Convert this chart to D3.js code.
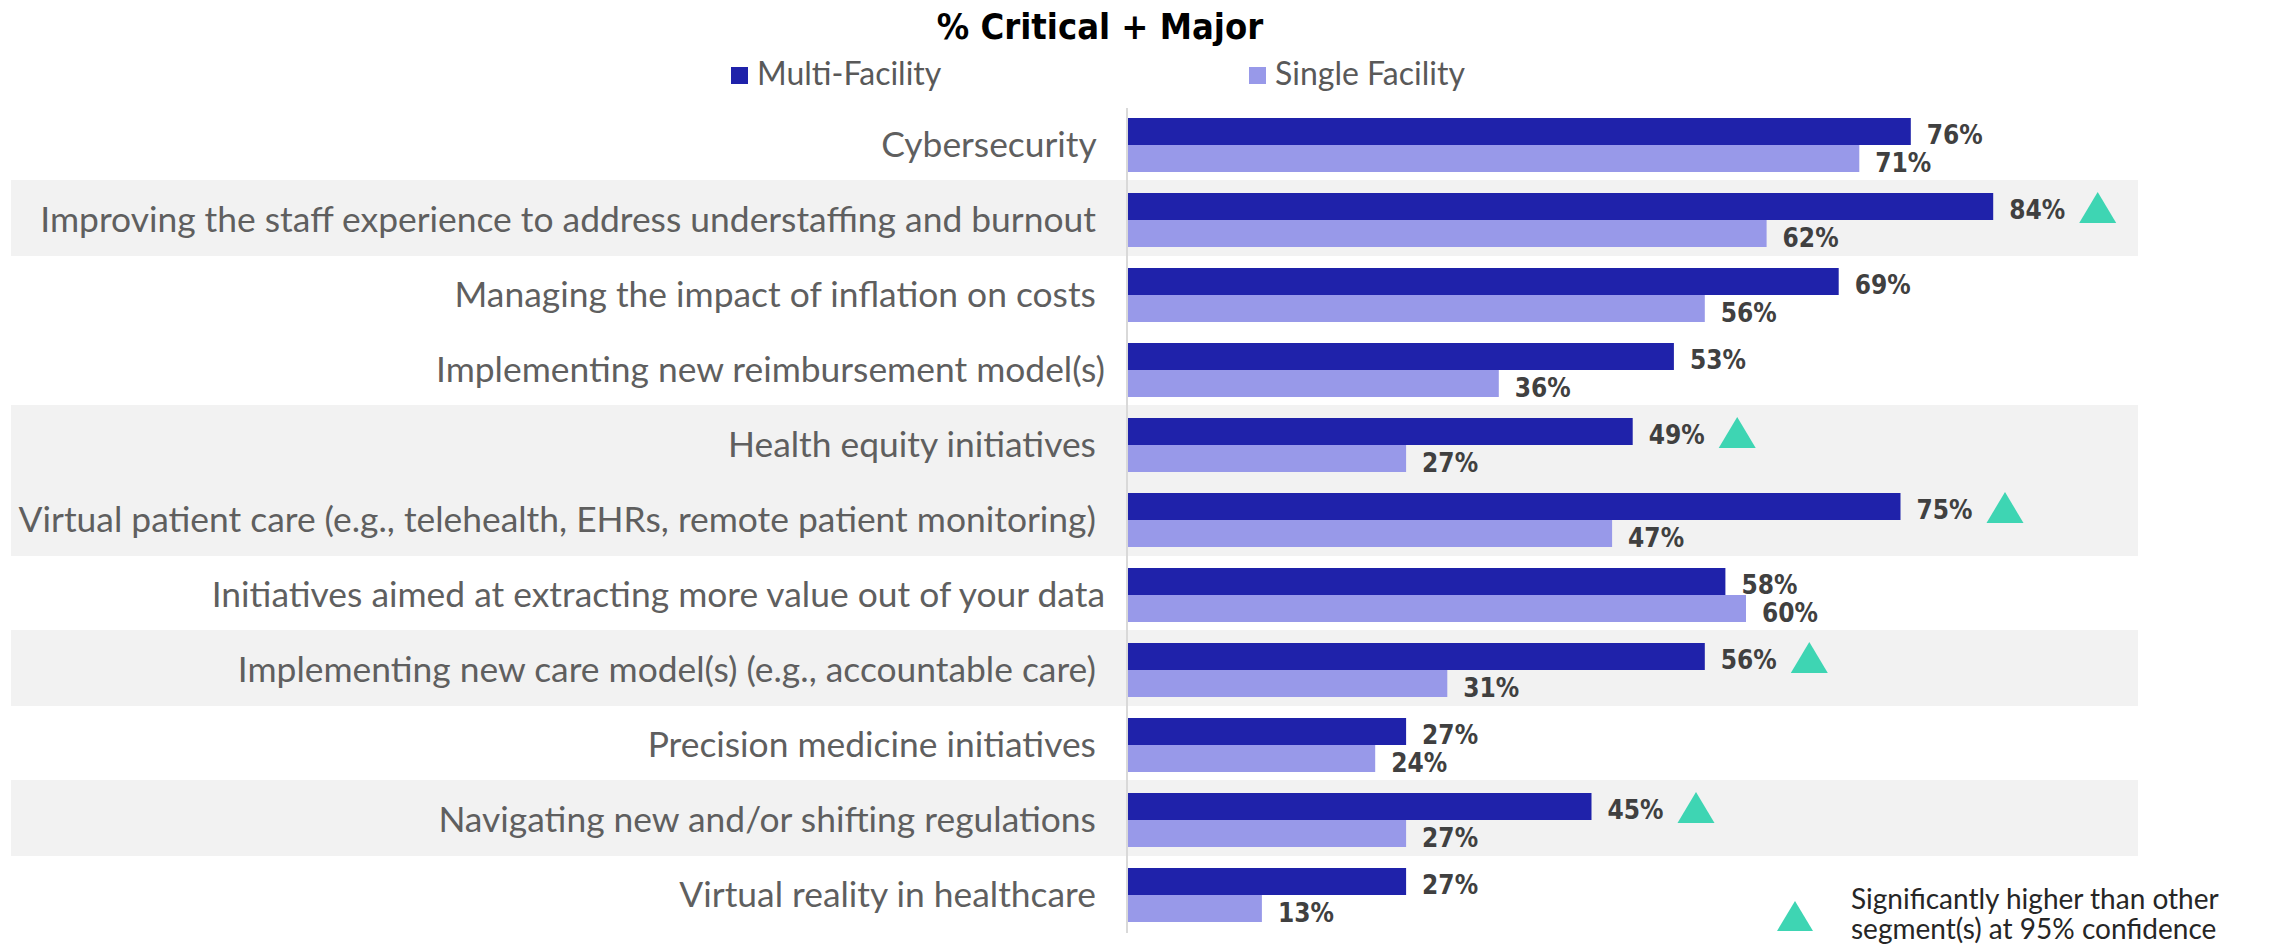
<!DOCTYPE html>
<html>
<head>
<meta charset="utf-8">
<script src="https://cdn.jsdelivr.net/npm/d3@7"></script>
<style>
  html, body { margin: 0; padding: 0; background: #fff; }
  svg { display: block; }
</style>
</head>
<body>
<svg id="chart"></svg>
<script>
let categories = [
    "Cybersecurity ",
    "Improving the staff experience to address understaffing and burnout ",
    "Managing the impact of inflation on costs ",
    "Implementing new reimbursement model(s)",
    "Health equity initiatives ",
    "Virtual patient care (e.g., telehealth, EHRs, remote patient monitoring) ",
    "Initiatives aimed at extracting more value out of your data",
    "Implementing new care model(s) (e.g., accountable care) ",
    "Precision medicine initiatives ",
    "Navigating new and/or shifting regulations ",
    "Virtual reality in healthcare "
];
let multiFacility  = [76, 84, 69, 53, 49, 75, 58, 56, 27, 45, 27];
let singleFacility = [71, 62, 56, 36, 27, 47, 60, 31, 24, 27, 13];
// rows where Multi-Facility is significantly higher
let significant = [false, true, false, false, true, true, false, true, false, true, false];
// rows with a grey background band
let shadedRows = [1, 4, 5, 7, 9];
let seriesNames = ["Multi-Facility", "Single Facility"];

let width = 2270;
let height = 945;
let darkBlue = "#1f22aa";
let lightBlue = "#9899e9";
let teal = "#3ed5b3";
let labelFont = "Lato, 'Open Sans', sans-serif";
let numFont = "'DejaVu Sans', sans-serif";

let svg = d3.select("#chart")
    .attr("width", width)
    .attr("height", height);

let x = d3.scaleLinear()
    .domain([0, 100])
    .range([1128, 2158]);

let y = d3.scaleBand()
    .domain(categories)
    .range([108, 933]);

let inner = d3.scaleBand()
    .domain(seriesNames)
    .range([10, 64]);

// grey bands behind some rows
svg.append("g")
    .selectAll("rect")
    .data(shadedRows)
    .join("rect")
    .attr("x", 11)
    .attr("width", 2138 - 11)
    .attr("y", i => y(categories[i]) - 3)
    .attr("height", y.bandwidth() + 1)
    .attr("fill", "#f2f2f2");

// title
svg.append("text")
    .attr("x", 1100)
    .attr("y", 39)
    .attr("text-anchor", "middle")
    .style("font-family", numFont)
    .style("font-stretch", "condensed")
    .style("font-weight", "bold")
    .style("font-size", "36px")
    .attr("fill", "#000")
    .text("% Critical + Major");

// legend
let legendX = [731, 1249];
let legend = svg.append("g")
    .selectAll("g")
    .data(seriesNames)
    .join("g")
    .attr("transform", (d, i) => `translate(${legendX[i]},67)`);
legend.append("rect")
    .attr("width", 17)
    .attr("height", 17)
    .attr("fill", (d, i) => i == 0 ? darkBlue : lightBlue);
legend.append("text")
    .attr("x", 26)
    .attr("y", 18)
    .style("font-family", labelFont)
    .style("font-size", "32px")
    .attr("fill", "#595959")
    .text(d => d);

// category labels
let labels = svg.append("g")
    .selectAll("text")
    .data(categories)
    .join("text")
    .attr("x", 1105)
    .attr("y", d => y(d) + y.bandwidth() / 2 + 11)
    .attr("text-anchor", "end")
    .style("white-space", "pre")
    .style("font-family", labelFont)
    .style("font-size", "30px")
    .attr("fill", "#5f5f5f")
    .text(d => d);

// scale label font so the longest label spans the same width as the original
let longest = labels.filter((d, i) => i == 5).node().getComputedTextLength();
let labelSize = 30 * 1087 / longest;
labels.style("font-size", labelSize + "px");

// bars
let rows = svg.append("g")
    .selectAll("g")
    .data(categories)
    .join("g")
    .attr("transform", d => `translate(0,${y(d)})`);

rows.append("rect")
    .attr("x", x(0))
    .attr("y", inner("Multi-Facility"))
    .attr("height", inner.bandwidth())
    .attr("width", (d, i) => x(multiFacility[i]) - x(0))
    .attr("fill", darkBlue);

rows.append("rect")
    .attr("x", x(0))
    .attr("y", inner("Single Facility"))
    .attr("height", inner.bandwidth())
    .attr("width", (d, i) => x(singleFacility[i]) - x(0))
    .attr("fill", lightBlue);

let multiLabels = rows.append("text")
    .attr("x", (d, i) => x(multiFacility[i]) + 16)
    .attr("y", inner("Multi-Facility") + inner.bandwidth() - 1)
    .style("font-family", numFont)
    .style("font-stretch", "condensed")
    .style("font-weight", "bold")
    .style("font-size", "26px")
    .attr("fill", "#404040")
    .text((d, i) => multiFacility[i] + "%");

rows.append("text")
    .attr("x", (d, i) => x(singleFacility[i]) + 16)
    .attr("y", inner("Single Facility") + inner.bandwidth())
    .style("font-family", numFont)
    .style("font-stretch", "condensed")
    .style("font-weight", "bold")
    .style("font-size", "26px")
    .attr("fill", "#404040")
    .text((d, i) => singleFacility[i] + "%");

// significance triangles
multiLabels.each(function(d, i) {
    if (!significant[i]) return;
    let left = x(multiFacility[i]) + 16 + this.getComputedTextLength() + 14;
    let top = inner("Multi-Facility") - 1;
    let bottom = inner("Multi-Facility") + inner.bandwidth() + 3;
    d3.select(this.parentNode).append("path")
        .attr("d", `M${left},${bottom}L${left + 37},${bottom}L${left + 18.5},${top}Z`)
        .attr("fill", teal);
});

// vertical axis line
svg.append("line")
    .attr("x1", x(0) - 1)
    .attr("x2", x(0) - 1)
    .attr("y1", y.range()[0])
    .attr("y2", y.range()[1])
    .attr("stroke", "#d9d9d9")
    .attr("stroke-width", 2);

// note at the bottom right
svg.append("path")
    .attr("d", "M1777,931L1813,931L1795,901Z")
    .attr("fill", teal);
let note = svg.append("text")
    .style("font-family", labelFont)
    .style("font-size", "28px")
    .attr("fill", "#262626");
note.append("tspan").attr("x", 1851).attr("y", 909).text("Significantly higher than other");
note.append("tspan").attr("x", 1851).attr("y", 939).text("segment(s) at 95% confidence");
</script>
</body>
</html>
